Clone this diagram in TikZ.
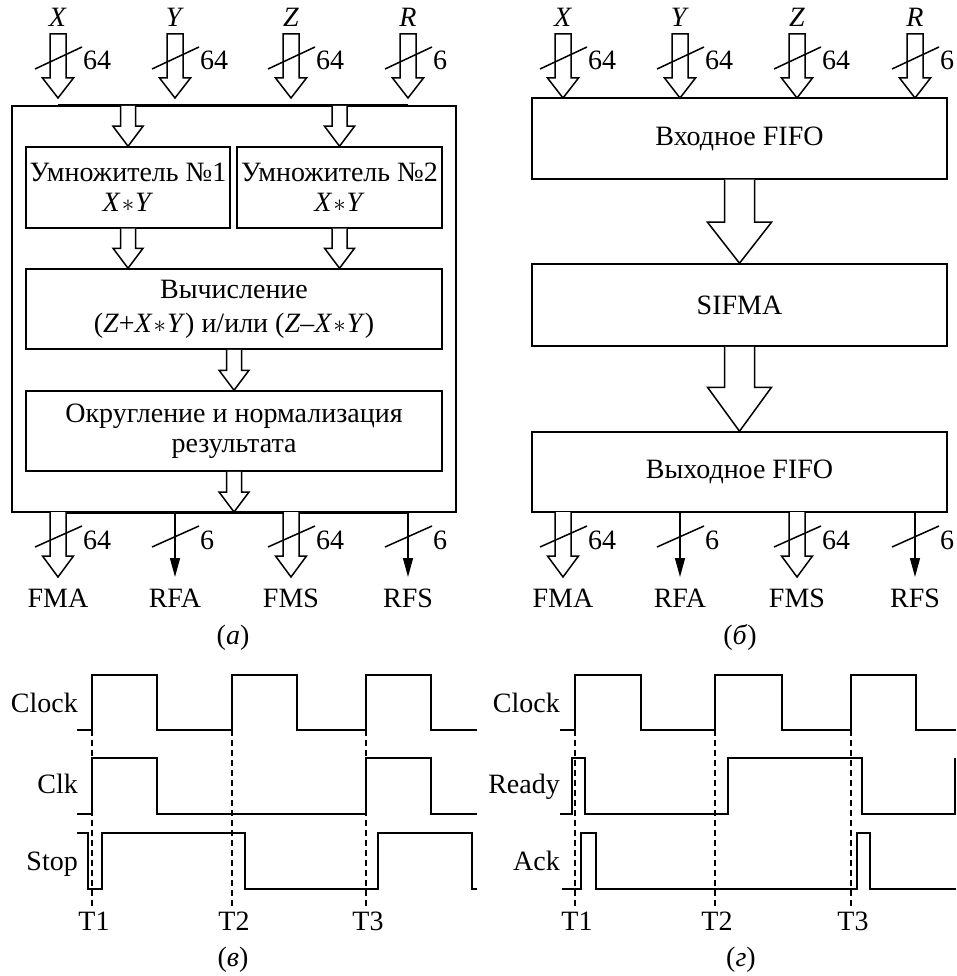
\documentclass[tikz,border=0pt]{standalone}
\usepackage{fontspec}
\setmainfont{Liberation Serif}
\usetikzlibrary{arrows.meta,calc}
\newcommand{\fsz}{\fontsize{28}{30}\selectfont}
\newcommand{\xy}{\textit{X}\kern1pt$\ast$\kern1pt\textit{Y}}
% hollow arrow, open at the top
\newcommand{\harrowo}[5]{%
  \draw[hollow] let \p1=(#1), \p2=(#2) in
    (\x1-#3,\y1) -- (\x1-#3,\y2+#5) -- (\x1-#4,\y2+#5) -- (\x1,\y2)
    -- (\x1+#4,\y2+#5) -- (\x1+#3,\y2+#5) -- (\x1+#3,\y1);}
% hollow arrow, closed at the top
\newcommand{\harrowc}[5]{%
  \draw[hollow] let \p1=(#1), \p2=(#2) in
    (\x1-#3,\y1) -- (\x1-#3,\y2+#5) -- (\x1-#4,\y2+#5) -- (\x1,\y2)
    -- (\x1+#4,\y2+#5) -- (\x1+#3,\y2+#5) -- (\x1+#3,\y1) -- cycle;}
\begin{document}
\begin{tikzpicture}[x=1pt,y=-1pt,
  box/.style={draw,line width=1.5pt,inner sep=0pt,align=center,font=\fsz},
  lbl/.style={inner sep=0pt,font=\fsz},
  hollow/.style={line width=1.5pt,line join=miter,fill=white},
  slash/.style={line width=1.5pt},
  busline/.style={line width=3pt},
  thinarr/.style={line width=1.5pt,-{Triangle[width=10pt,length=19pt]}},
  wave/.style={line width=1.8pt,line join=miter},
  tick/.style={line width=1.2pt,dash pattern=on 6pt off 4pt}]
\useasboundingbox (0,0) rectangle (956,976);

% ================= (a) =================
\draw[line width=1.5pt] (12,106) rectangle (456,512);
\draw[busline] (58,106) -- (408,106);
\draw[busline] (58,512) -- (408,512);
\coordinate (busTop) at (0,106);
\coordinate (busBot) at (0,512);

\foreach \px/\nm/\w in {58/X/64,175/Y/64,291/Z/64,408/R/6} {
  \node[lbl,anchor=base] (a\nm) at (\px,27) {\textit{\nm}};
  \coordinate (as\nm) at (\px,34);
  \coordinate (at\nm) at (\px,98);
  \node[lbl,anchor=base west] (aw\nm) at (\px+25,70) {\w};
}
\harrowc{asX}{atX}{8pt}{15.5pt}{20pt}
\harrowc{asY}{atY}{8pt}{15.5pt}{20pt}
\harrowc{asZ}{atZ}{8pt}{15.5pt}{20pt}
\harrowc{asR}{atR}{8pt}{15.5pt}{20pt}
\foreach \px in {58,175,291,408} \draw[slash] (\px-23,69) -- (\px+24,47);

\node[box,minimum width=204pt,minimum height=81pt] (m1) at (128,187.5)
  {Умножитель №1\\\xy};
\node[box,minimum width=205pt,minimum height=81pt] (m2) at (339.5,187.5)
  {Умножитель №2\\\xy};
\node[box,minimum width=416pt,minimum height=80pt,font=\fontsize{28}{34}\selectfont] (calc) at (234,309)
  {Вычисление\\(\textit{Z}+\xy) и/или (\textit{Z}–\xy)};
\node[box,minimum width=416pt,minimum height=80pt] (rnd) at (234,431)
  {Округление и нормализация\\результата};

\harrowo{m1.north |- busTop}{m1.north}{7.5pt}{15pt}{20pt}
\harrowo{m2.north |- busTop}{m2.north}{7.5pt}{15pt}{20pt}
\harrowo{m1.south}{m1.south |- calc.north}{7.5pt}{15pt}{20pt}
\harrowo{m2.south}{m2.south |- calc.north}{7.5pt}{15pt}{20pt}
\harrowo{calc.south}{rnd.north}{7.5pt}{15pt}{20pt}
\harrowo{rnd.south}{rnd.south |- busBot}{7.5pt}{15pt}{20pt}

\foreach \px/\nm/\w in {58/FMA/64,175/RFA/6,291/FMS/64,408/RFS/6} {
  \coordinate (bs\nm) at (\px,512);
  \coordinate (bt\nm) at (\px,577);
  \node[lbl,anchor=base] (bl\nm) at (\px,607) {\nm};
  \node[lbl,anchor=base west] (bw\nm) at (\px+25,549) {\w};
}
\harrowo{bsFMA}{btFMA}{8pt}{15.5pt}{21pt}
\harrowo{bsFMS}{btFMS}{8pt}{15.5pt}{21pt}
\draw[thinarr] (bsRFA) -- (btRFA);
\draw[thinarr] (bsRFS) -- (btRFS);
\foreach \px in {58,175,291,408} \draw[slash] (\px-23,547) -- (\px+24,526);
\node[lbl,anchor=base] (capa) at (233,644) {(\textit{а})};

% ================= (b) =================
\node[box,minimum width=415pt,minimum height=81pt] (fin) at (739.5,138.5) {Входное FIFO};
\node[box,minimum width=415pt,minimum height=82pt] (sif) at (739.5,305) {SIFMA};
\node[box,minimum width=415pt,minimum height=80pt] (fout) at (739.5,472) {Выходное FIFO};
\harrowo{fin.south}{sif.north}{15pt}{32pt}{41pt}
\harrowo{sif.south}{fout.north}{15pt}{32pt}{44pt}

\foreach \px/\nm/\w in {563/X/64,680/Y/64,797/Z/64,915/R/6} {
  \node[lbl,anchor=base] (b\nm) at (\px,27) {\textit{\nm}};
  \coordinate (cs\nm) at (\px,34);
  \coordinate (ct\nm) at (\px,98);
  \node[lbl,anchor=base west] (cw\nm) at (\px+25,70) {\w};
}
\harrowc{csX}{ctX}{8pt}{15.5pt}{20pt}
\harrowc{csY}{ctY}{8pt}{15.5pt}{20pt}
\harrowc{csZ}{ctZ}{8pt}{15.5pt}{20pt}
\harrowc{csR}{ctR}{8pt}{15.5pt}{20pt}
\foreach \px in {563,680,797,915} \draw[slash] (\px-23,69) -- (\px+24,47);

\foreach \px/\nm/\w in {563/FMA/64,680/RFA/6,797/FMS/64,915/RFS/6} {
  \coordinate (ds\nm) at (\px,512);
  \coordinate (dt\nm) at (\px,577);
  \node[lbl,anchor=base] (dl\nm) at (\px,607) {\nm};
  \node[lbl,anchor=base west] (dw\nm) at (\px+25,549) {\w};
}
\harrowo{dsFMA}{dtFMA}{8pt}{15.5pt}{21pt}
\harrowo{dsFMS}{dtFMS}{8pt}{15.5pt}{21pt}
\draw[thinarr] (dsRFA) -- (dtRFA);
\draw[thinarr] (dsRFS) -- (dtRFS);
\foreach \px in {563,680,797,915} \draw[slash] (\px-23,547) -- (\px+24,526);
\node[lbl,anchor=base] (capb) at (740,644) {(\textit{б})};

% ================= (v) timing =================
\node[lbl,anchor=base east] (vclock) at (78,712) {Clock};
\node[lbl,anchor=base east] (vclk) at (78,793) {Clk};
\node[lbl,anchor=base east] (vstop) at (78,870) {Stop};
\draw[wave] (77,730) -- (92,730) -- (92,675) -- (157,675) -- (157,730) -- (232,730)
  -- (232,675) -- (297,675) -- (297,730) -- (366,730) -- (366,675) -- (431,675)
  -- (431,730) -- (477,730);
\draw[wave] (77,814) -- (92,814) -- (92,758) -- (157,758) -- (157,814) -- (366,814)
  -- (366,758) -- (431,758) -- (431,814) -- (477,814);
\draw[wave] (77,833) -- (88,833) -- (88,889) -- (102,889) -- (102,833) -- (245,833)
  -- (245,889) -- (378,889) -- (378,833) -- (472,833) -- (472,889) -- (477,889);
\foreach \px/\t in {92/T1,232/T2,366/T3} {
  \draw[tick] (\px,730) -- (\px,907);
  \node[lbl,anchor=base] (v\t) at (\px+2,930) {\t};
}
\node[lbl,anchor=base] (capv) at (233,966) {(\textit{в})};

% ================= (g) timing =================
\node[lbl,anchor=base east] (gclock) at (560,712) {Clock};
\node[lbl,anchor=base east] (gready) at (560,793) {Ready};
\node[lbl,anchor=base east] (gack) at (560,870) {Ack};
\draw[wave] (560,730) -- (575,730) -- (575,675) -- (641,675) -- (641,730) -- (715,730)
  -- (715,675) -- (782,675) -- (782,730) -- (851,730) -- (851,675) -- (916,675)
  -- (916,730) -- (956,730);
\draw[wave] (560,814) -- (572,814) -- (572,758) -- (585,758) -- (585,814) -- (728,814)
  -- (728,758) -- (862,758) -- (862,814) -- (955,814) -- (955,758);
\draw[wave] (562,889) -- (581,889) -- (581,833) -- (596,833) -- (596,889) -- (857,889)
  -- (857,833) -- (870,833) -- (870,889) -- (956,889);
\foreach \px/\t in {575/T1,715/T2,851/T3} {
  \draw[tick] (\px,730) -- (\px,907);
  \node[lbl,anchor=base] (g\t) at (\px+2,930) {\t};
}
\node[lbl,anchor=base] (capg) at (741,966) {(\textit{г})};
\end{tikzpicture}
\end{document}
